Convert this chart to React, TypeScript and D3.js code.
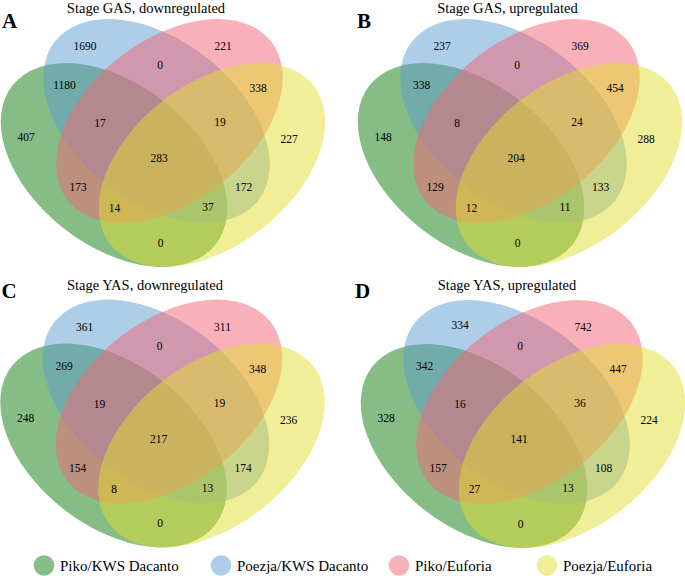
import React from "react";
import * as d3 from "d3";

// ---------- data ----------
const panelLetters = ["A", "B", "C", "D"];
const panelTitles = [
  "Stage GAS, downregulated",
  "Stage GAS, upregulated",
  "Stage YAS, downregulated",
  "Stage YAS, upregulated",
];
const setNames = ["Piko/KWS Dacanto", "Poezja/KWS Dacanto", "Piko/Euforia", "Poezja/Euforia"];
const setKeys = ["G", "B", "P", "Y"];
const setColors = ["#0d790d", "#5d9bcd", "#f36373", "#e1dd2d"];

// region keys: letters = sets that contain the region
const regionKeys = ["B", "BP", "P", "GB", "PY", "GBP", "BPY", "G", "Y", "GBPY", "GP", "BY", "GPY", "GBY", "GY"];
const countsA = [1690, 0, 221, 1180, 338, 17, 19, 407, 227, 283, 173, 172, 14, 37, 0];
const countsB = [237, 0, 369, 338, 454, 8, 24, 148, 288, 204, 129, 133, 12, 11, 0];
const countsC = [361, 0, 311, 269, 348, 19, 19, 248, 236, 217, 154, 174, 8, 13, 0];
const countsD = [334, 0, 742, 342, 447, 16, 36, 328, 224, 141, 157, 108, 27, 13, 0];
const panelCounts = [countsA, countsB, countsC, countsD];

// ---------- layout (panel-local pixel frame) ----------
const W = 685;
const H = 576;
const panelOrigins: [number, number][] = [
  [0, 0],
  [357, 0],
  [-0.5, 280.5],
  [360, 281],
];
const titlePos: [number, number][] = [
  [146, 13],
  [150.5, 13],
  [145.5, 289.5],
  [147, 289.5],
];
const letterPos: [number, number][] = [
  [2, 28],
  [0, 28],
  [2, 17],
  [-5, 16.5],
];
// ellipse geometry: cx, cy, rx, ry, rotation (deg)
const ellipseGeom: Record<string, [number, number, number, number, number]> = {
  G: [114, 165, 129, 81, 38],
  B: [156.5, 121, 129, 81, 38],
  P: [169.5, 121, 129, 81, -38],
  Y: [212, 165, 129, 81, -38],
};
const labelPos: Record<string, [number, number]> = {
  B: [85, 46],
  BP: [160, 65],
  P: [223, 46],
  GB: [64.5, 85],
  PY: [258, 88],
  GBP: [100, 123],
  BPY: [220, 122],
  G: [26, 137],
  Y: [289, 139],
  GBPY: [159, 158],
  GP: [78, 187],
  BY: [243.5, 187],
  GPY: [114.5, 208],
  GBY: [208, 207],
  GY: [160.5, 242.5],
};
const labelNudge: Record<string, [number, number]>[] = [{}, {}, {}, { B: [15, -2] }];

const legendX = [44, 221, 399, 547];
const legendY = 565.5;

const serif = "'Liberation Serif', 'Times New Roman', Times, serif";

const color = d3.scaleOrdinal<string, string>().domain(setKeys).range(setColors);

function Panel({ idx }: { idx: number }) {
  const [ox, oy] = panelOrigins[idx];
  const x = d3.scaleLinear().domain([0, 1]).range([ox, ox + 1]);
  const y = d3.scaleLinear().domain([0, 1]).range([oy, oy + 1]);
  const counts = panelCounts[idx];
  return (
    <g>
      {setKeys.map((k) => {
        const [cx, cy, rx, ry, rot] = ellipseGeom[k];
        return (
          <ellipse
            key={k}
            cx={0}
            cy={0}
            rx={rx}
            ry={ry}
            transform={`translate(${x(cx)},${y(cy)}) rotate(${rot})`}
            fill={color(k)}
            fillOpacity={0.5}
          />
        );
      })}
      {regionKeys.map((rk, i) => {
        const [lx, ly] = labelPos[rk];
        const nd = labelNudge[idx][rk] || [0, 0];
        return (
          <text
            key={rk}
            x={x(lx + nd[0])}
            y={y(ly + nd[1])}
            dy="0.35em"
            textAnchor="middle"
            fontFamily={serif}
            fontSize={11.5}
            fill="#000"
          >
            {counts[i]}
          </text>
        );
      })}
      <text
        x={x(titlePos[idx][0])}
        y={titlePos[idx][1]}
        textAnchor="middle"
        fontFamily={serif}
        fontSize={14.5}
        fill="#000"
      >
        {panelTitles[idx]}
      </text>
      <text
        x={x(letterPos[idx][0])}
        y={y(letterPos[idx][1])}
        fontFamily={serif}
        fontWeight="bold"
        fontSize={21}
        fill="#000"
      >
        {panelLetters[idx]}
      </text>
    </g>
  );
}

export default function App() {
  return (
    <svg
      width={W}
      height={H}
      viewBox={`0 0 ${W} ${H}`}
      style={{ position: "absolute", left: 0, top: 0, display: "block", background: "#fff" }}
    >
      <rect x={0} y={0} width={W} height={H} fill="#fff" />
      {[0, 1, 2, 3].map((i) => (
        <Panel key={i} idx={i} />
      ))}
      {setNames.map((name, i) => (
        <g key={name}>
          <circle cx={legendX[i]} cy={legendY} r={10.3} fill={setColors[i]} fillOpacity={0.5} />
          <text x={legendX[i] + 16} y={571} fontFamily={serif} fontSize={15} fill="#000">
            {name}
          </text>
        </g>
      ))}
    </svg>
  );
}
